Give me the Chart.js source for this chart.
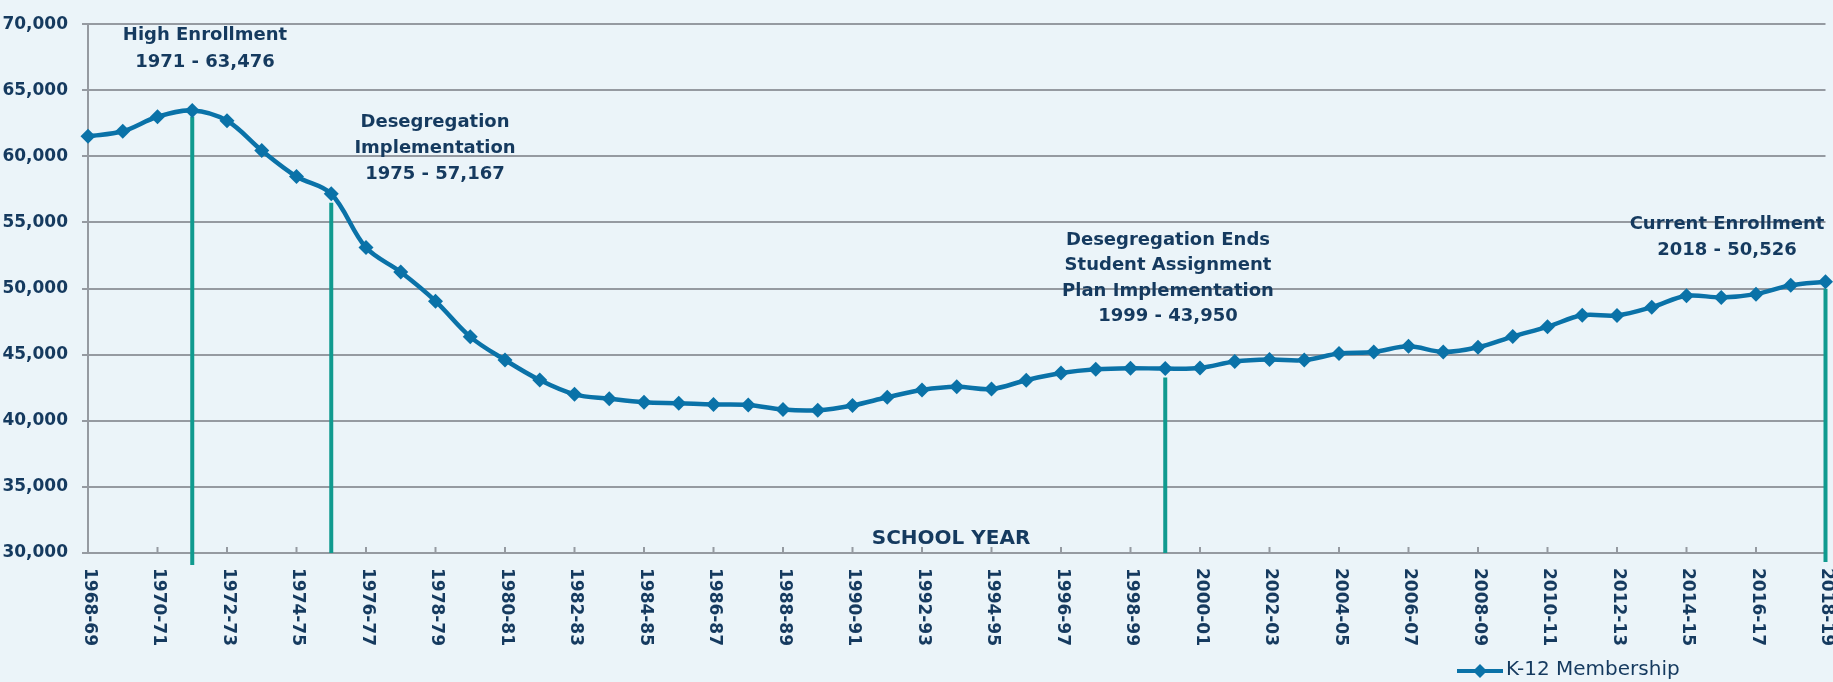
<!DOCTYPE html>
<html>
<head>
<meta charset="utf-8">
<title>K-12 Membership</title>
<script src="https://cdn.jsdelivr.net/npm/chart.js@4.4.1/dist/chart.umd.min.js"></script>
<style>
  html, body { margin: 0; padding: 0; background: #ebf4f9; }
  #wrap { width: 1833px; height: 682px; position: relative; }
</style>
</head>
<body>
<div id="wrap"><canvas id="graph--enrollment"></canvas></div>
<script>
// categories
const SCHOOL_YEARS = [
  "1968-69", "1969-70", "1970-71", "1971-72", "1972-73", "1973-74", "1974-75", "1975-76",
  "1976-77", "1977-78", "1978-79", "1979-80", "1980-81", "1981-82", "1982-83", "1983-84",
  "1984-85", "1985-86", "1986-87", "1987-88", "1988-89", "1989-90", "1990-91", "1991-92",
  "1992-93", "1993-94", "1994-95", "1995-96", "1996-97", "1997-98", "1998-99", "1999-00",
  "2000-01", "2001-02", "2002-03", "2003-04", "2004-05", "2005-06", "2006-07", "2007-08",
  "2008-09", "2009-10", "2010-11", "2011-12", "2012-13", "2013-14", "2014-15", "2015-16",
  "2016-17", "2017-18", "2018-19"
];

// K-12 membership, one value per school year
const MEMBERSHIP = [
  61520, 61900, 63000, 63476, 62700, 60450, 58480, 57167,
  53100, 51250, 49050, 46350, 44600, 43080, 42000, 41670,
  41400, 41330, 41240, 41200, 40850, 40800, 41160, 41780,
  42330, 42570, 42400, 43070, 43610, 43900, 43980, 43950,
  44000, 44480, 44640, 44590, 45090, 45210, 45630, 45210,
  45560, 46370, 47110, 47980, 47970, 48590, 49460, 49330,
  49580, 50250, 50526
];

const Y_TICKS = [30000, 35000, 40000, 45000, 50000, 55000, 60000, 65000, 70000];

// marked school years and their callouts
const EVENT_INDEX = [3, 7, 31, 50];
const EVENT_TEXT = [
  ["High Enrollment", "1971 - 63,476"],
  ["Desegregation", "Implementation", "1975 - 57,167"],
  ["Desegregation Ends", "Student Assignment", "Plan Implementation", "1999 - 43,950"],
  ["Current Enrollment", "2018 - 50,526"]
];

// layout of the callouts (text centre, first line y, line gap) and the drop lines
const CALLOUT_POS = [
  { x: 205, y: 35, gap: 27 },
  { x: 435, y: 122, gap: 26 },
  { x: 1168, y: 240, gap: 25.6 },
  { x: 1727, y: 224, gap: 26 }
];
const DROP_LINE = [
  { below: 6, past: 12 },
  { below: 9, past: 0 },
  { below: 9, past: 0 },
  { below: 7, past: 9 }
];

const BG = "#ebf4f9";
const NAVY = "#153a5f";
const LINE_BLUE = "#0a72a8";
const TEAL = "#109a8f";
const GRID = "#959aa1";
const FONT = "'DejaVu Sans', Verdana, sans-serif";

Chart.defaults.font.family = FONT;

const decorations = {
  id: "decorations",
  beforeDraw(chart) {
    const ctx = chart.ctx;
    ctx.save();
    ctx.fillStyle = BG;
    ctx.fillRect(0, 0, chart.width, chart.height);
    ctx.restore();
  },
  beforeDatasetsDraw(chart) {
    const ctx = chart.ctx;
    const xs = chart.scales.x;
    const ys = chart.scales.y;
    const bottom = chart.chartArea.bottom;

    // tick marks on the category axis, every other year
    ctx.save();
    ctx.strokeStyle = GRID;
    ctx.lineWidth = 2;
    for (let i = 0; i < SCHOOL_YEARS.length; i += 2) {
      const px = xs.getPixelForValue(i);
      ctx.beginPath();
      ctx.moveTo(px, bottom - 6);
      ctx.lineTo(px, bottom);
      ctx.stroke();
    }

    // teal drop lines under the marked years
    ctx.strokeStyle = TEAL;
    ctx.lineWidth = 4;
    EVENT_INDEX.forEach((idx, k) => {
      const px = xs.getPixelForValue(idx);
      const py = ys.getPixelForValue(MEMBERSHIP[idx]);
      ctx.beginPath();
      ctx.moveTo(px, py + DROP_LINE[k].below);
      ctx.lineTo(px, bottom + DROP_LINE[k].past);
      ctx.stroke();
    });
    ctx.restore();
  },
  afterDraw(chart) {
    const ctx = chart.ctx;
    const xs = chart.scales.x;
    const bottom = chart.chartArea.bottom;

    ctx.save();
    // rotated year labels, reading top to bottom
    ctx.fillStyle = NAVY;
    ctx.font = "bold 17px " + FONT;
    ctx.textAlign = "left";
    ctx.textBaseline = "middle";
    for (let i = 0; i < SCHOOL_YEARS.length; i += 2) {
      const px = xs.getPixelForValue(i);
      ctx.save();
      ctx.translate(px + 1, bottom + 15);
      ctx.rotate(Math.PI / 2);
      ctx.fillText(SCHOOL_YEARS[i], 0, 0);
      ctx.restore();
    }

    // axis title sits inside the plot
    ctx.font = "bold 20px " + FONT;
    ctx.textAlign = "center";
    ctx.fillText("SCHOOL YEAR", 951, bottom - 14);

    // callouts
    ctx.font = "bold 18px " + FONT;
    EVENT_TEXT.forEach((lines, k) => {
      const pos = CALLOUT_POS[k];
      lines.forEach((t, j) => ctx.fillText(t, pos.x, pos.y + j * pos.gap));
    });

    // legend
    const ly = 671;
    ctx.strokeStyle = LINE_BLUE;
    ctx.lineWidth = 4;
    ctx.beginPath();
    ctx.moveTo(1457, ly);
    ctx.lineTo(1503, ly);
    ctx.stroke();
    ctx.fillStyle = LINE_BLUE;
    ctx.beginPath();
    ctx.moveTo(1480, ly - 7);
    ctx.lineTo(1487, ly);
    ctx.lineTo(1480, ly + 7);
    ctx.lineTo(1473, ly);
    ctx.closePath();
    ctx.fill();
    ctx.fillStyle = NAVY;
    ctx.font = "20px " + FONT;
    ctx.textAlign = "left";
    ctx.fillText("K-12 Membership", 1506, ly - 1);
    ctx.restore();
  }
};

const ENROLLMENT = document.getElementById("graph--enrollment");

let enrollmentChart = new Chart(ENROLLMENT, {
  type: "line",
  data: {
    labels: SCHOOL_YEARS,
    datasets: [{
      label: "K-12 Membership",
      data: MEMBERSHIP,
      borderColor: LINE_BLUE,
      backgroundColor: LINE_BLUE,
      borderWidth: 4.5,
      tension: 0.35,
      pointStyle: "rectRot",
      pointRadius: 7.5,
      pointBorderWidth: 0,
      pointBackgroundColor: LINE_BLUE,
      clip: false
    }]
  },
  options: {
    responsive: true,
    maintainAspectRatio: false,
    animation: false,
    layout: { padding: { top: 13, right: 6, left: 0, bottom: 0 } },
    plugins: {
      legend: { display: false },
      tooltip: { enabled: false }
    },
    scales: {
      x: {
        offset: false,
        grid: { display: false, drawTicks: false },
        border: { display: true, color: GRID, width: 2 },
        ticks: { display: false },
        afterFit(scale) { scale.height = 129; }
      },
      y: {
        min: Y_TICKS[0],
        max: Y_TICKS[Y_TICKS.length - 1],
        afterBuildTicks(scale) { scale.ticks = Y_TICKS.map(v => ({ value: v })); },
        grid: { color: GRID, lineWidth: 2, tickLength: 6 },
        border: { display: true, color: GRID, width: 2 },
        ticks: {
          color: NAVY,
          padding: 14,
          font: { size: 17, weight: "bold" },
          callback: v => v.toLocaleString("en-US")
        },
        afterFit(scale) { scale.width = 88; }
      }
    }
  },
  plugins: [decorations]
});
</script>
</body>
</html>
